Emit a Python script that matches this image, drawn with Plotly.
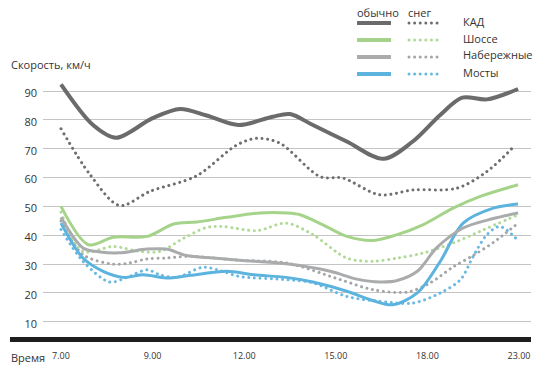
import plotly.graph_objects as go

# ---- data ----
tick_labels = ["7.00", "9.00", "12.00", "15.00", "18.00", "23.00"]
tick_pos = [0, 1, 2, 3, 4, 5]
y_ticks = [10, 20, 30, 40, 50, 60, 70, 80, 90]

kad_x = [0, 0.35, 0.60, 1.00, 1.30, 1.59, 1.94, 2.31, 2.50, 2.75, 3.12, 3.52, 3.84, 4.14, 4.38, 4.65, 4.99]
kad_y = [92.3, 78.2, 73.8, 80.6, 83.8, 81.5, 78.2, 81.1, 82.0, 78.2, 72.5, 66.5, 72.5, 81.7, 87.7, 87.1, 90.7]

kad_snow_x = [0, 0.32, 0.64, 0.97, 1.48, 1.92, 2.14, 2.39, 2.83, 3.08, 3.48, 3.84, 4.32, 4.65, 4.96]
kad_snow_y = [76.9, 60.9, 50.3, 55.2, 60.6, 71.3, 73.6, 71.9, 60.3, 59.8, 54.0, 55.7, 56.3, 62.1, 71.3]

hw_x = [0, 0.30, 0.57, 0.94, 1.23, 1.48, 1.81, 2.17, 2.46, 2.61, 2.86, 3.12, 3.41, 3.67, 3.95, 4.28, 4.57, 4.99]
hw_y = [50.0, 36.7, 39.3, 39.6, 43.9, 44.6, 46.2, 47.7, 47.7, 47.1, 43.6, 39.6, 38.2, 40.2, 43.6, 49.4, 53.4, 57.5]

hw_snow_x = [0, 0.24, 0.57, 0.86, 1.08, 1.34, 1.59, 1.77, 2.14, 2.46, 2.75, 3.12, 3.41, 3.67, 3.95, 4.28, 4.57, 4.99]
hw_snow_y = [48.0, 34.4, 36.1, 34.4, 34.4, 39.0, 42.7, 43.0, 41.6, 44.2, 40.2, 32.1, 31.0, 32.1, 33.8, 37.3, 41.3, 47.1]

emb_x = [0, 0.24, 0.43, 0.64, 0.94, 1.15, 1.37, 1.66, 1.95, 2.46, 2.94, 3.23, 3.48, 3.67, 3.89, 4.10, 4.39, 4.72, 4.99]
emb_y = [46.2, 35.6, 34.2, 33.9, 35.2, 35.2, 33.0, 32.1, 31.3, 30.1, 27.5, 24.8, 23.8, 24.3, 27.5, 35.6, 42.5, 45.8, 47.7]

emb_snow_x = [0, 0.24, 0.57, 0.75, 0.94, 1.15, 1.41, 1.95, 2.46, 3.05, 3.41, 3.78, 4.03, 4.28, 4.50, 4.72, 4.99]
emb_snow_y = [45.0, 33.3, 30.0, 30.4, 31.8, 32.1, 32.7, 31.3, 30.4, 24.6, 21.1, 20.3, 23.5, 29.0, 33.0, 37.5, 44.2]

br_x = [0, 0.24, 0.46, 0.68, 0.90, 1.15, 1.41, 1.81, 2.10, 2.46, 2.75, 3.12, 3.41, 3.62, 3.89, 4.14, 4.39, 4.72, 4.99]
br_y = [44.2, 32.1, 27.5, 25.4, 26.3, 25.2, 26.1, 27.5, 26.3, 25.4, 23.8, 20.6, 17.3, 15.9, 20.0, 30.9, 44.2, 49.4, 50.8]

br_snow_x = [0, 0.24, 0.53, 0.72, 0.94, 1.08, 1.26, 1.55, 1.74, 1.95, 2.46, 2.75, 3.12, 3.48, 3.84, 4.14, 4.36, 4.50, 4.65, 4.79, 4.99]
br_snow_y = [42.0, 31.0, 23.8, 25.4, 28.0, 26.3, 25.4, 28.9, 27.7, 25.7, 24.6, 23.5, 18.8, 17.1, 16.5, 20.0, 24.6, 32.7, 40.2, 43.0, 38.2]

names = ["КАД", "Шоссе", "Набережные", "Мосты"]
solid_colors = ["#6b6b6b", "#a6d38a", "#a9abad", "#5cb3de"]
dot_colors = ["#6e6e6e", "#b0d996", "#a3a6a9", "#68b9e2"]
solid_widths = [4, 3, 3, 3]

series = [
    (kad_x, kad_y, kad_snow_x, kad_snow_y),
    (hw_x, hw_y, hw_snow_x, hw_snow_y),
    (emb_x, emb_y, emb_snow_x, emb_snow_y),
    (br_x, br_y, br_snow_x, br_snow_y),
]

W, H = 542, 381
ML, MR, MT, MB = 43, 11, 80, 51
PW, PH = W - ML - MR, H - MT - MB

def px(x):
    return (x - ML) / PW

def py(y):
    return (H - MB - y) / PH

fig = go.Figure()
order = [3, 2, 1, 0]
for i in order:
    sx, sy, dx, dy = series[i]
    fig.add_trace(go.Scatter(x=dx, y=dy, mode="lines", name=names[i] + " снег",
                             line=dict(color=dot_colors[i], width=3, dash="3px,3px",
                                       shape="spline", smoothing=0.9),
                             showlegend=False, hoverinfo="skip"))
for i in order:
    sx, sy, dx, dy = series[i]
    fig.add_trace(go.Scatter(x=sx, y=sy, mode="lines", name=names[i],
                             line=dict(color=solid_colors[i], width=solid_widths[i],
                                       shape="spline", smoothing=0.9),
                             showlegend=False, hoverinfo="skip"))

shapes = []
annotations = []
shapes.append(dict(type="rect", xref="paper", yref="paper",
                   x0=px(10), x1=px(531), y0=py(342), y1=py(337),
                   fillcolor="#1e1e1e", line=dict(width=0), layer="above"))

font_main = "Open Sans, DejaVu Sans, sans-serif"
row_y = [23, 40, 57, 74]
for i in range(4):
    shapes.append(dict(type="line", xref="paper", yref="paper",
                       x0=px(357), x1=px(391), y0=py(row_y[i]), y1=py(row_y[i]),
                       line=dict(color=solid_colors[i], width=4)))
    shapes.append(dict(type="line", xref="paper", yref="paper",
                       x0=px(409), x1=px(440), y0=py(row_y[i]), y1=py(row_y[i]),
                       line=dict(color=dot_colors[i], width=3, dash="3px,3px")))
    annotations.append(dict(xref="paper", yref="paper", x=px(461), y=py(row_y[i] - 2),
                            text=names[i], showarrow=False, xanchor="left", yanchor="middle",
                            font=dict(family=font_main, size=11, color="#333333")))
annotations.append(dict(xref="paper", yref="paper", x=px(355), y=py(12), text="обычно",
                        showarrow=False, xanchor="left", yanchor="middle",
                        font=dict(family=font_main, size=11, color="#333333")))
annotations.append(dict(xref="paper", yref="paper", x=px(406), y=py(12), text="снег",
                        showarrow=False, xanchor="left", yanchor="middle",
                        font=dict(family=font_main, size=11, color="#333333")))
annotations.append(dict(xref="paper", yref="paper", x=px(9), y=py(65), text="Скорость, км/ч",
                        showarrow=False, xanchor="left", yanchor="middle",
                        font=dict(family=font_main, size=11, color="#333333")))
annotations.append(dict(xref="paper", yref="paper", x=px(9), y=py(357), text="Время",
                        showarrow=False, xanchor="left", yanchor="middle",
                        font=dict(family=font_main, size=11, color="#333333")))

t_lo = (ML - 61) / 91.6
t_hi = (W - MR - 61) / 91.6
pxu = 2.885
y_hi = 90 + (91 - MT) / pxu
y_lo = y_hi - PH / pxu

fig.update_layout(
    width=W, height=H,
    margin=dict(l=ML, r=MR, t=MT, b=MB, pad=0),
    paper_bgcolor="white", plot_bgcolor="white",
    showlegend=False,
    shapes=shapes, annotations=annotations,
    xaxis=dict(range=[t_lo, t_hi], tickvals=tick_pos, ticktext=tick_labels,
               showgrid=False, zeroline=False, showline=False, ticks="",
               tickfont=dict(family=font_main, size=9, color="#333333"),
               ticklabelstandoff=19, fixedrange=True),
    yaxis=dict(range=[y_lo, y_hi], tickvals=y_ticks, showgrid=True,
               gridcolor="#c4c4c4", gridwidth=1, zeroline=False, showline=False,
               ticks="", tickfont=dict(family=font_main, size=11, color="#333333"),
               ticklabelstandoff=5, ticklabelshift=2, fixedrange=True),
)

post = """
document.body.style.margin='0px';
document.body.style.overflow='hidden';
document.querySelectorAll('path').forEach(function(p){
  var d = p.style.strokeDasharray || '';
  if (d.indexOf('3px') >= 0) {
    p.style.strokeLinecap = 'round';
    p.style.strokeDasharray = '0.01px, 5.6px';
  }
});
"""
fig.write_html("out.html", config={"displayModeBar": False}, post_script=post)
